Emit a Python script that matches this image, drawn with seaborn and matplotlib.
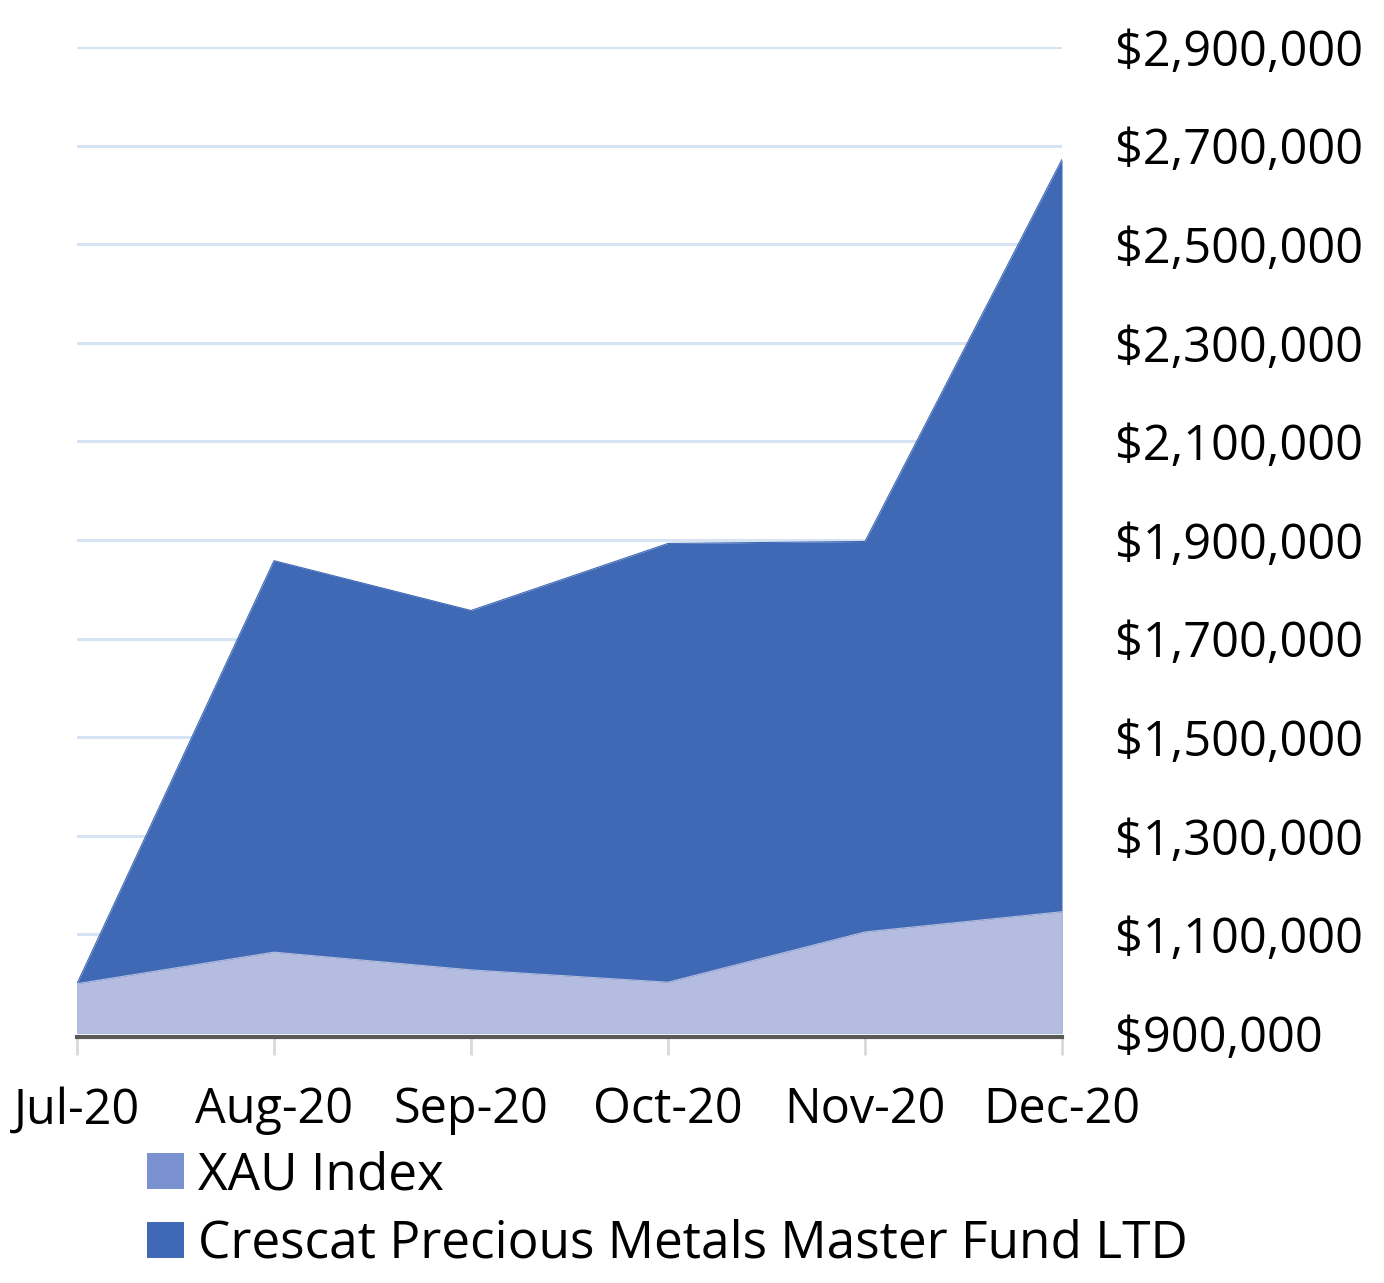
import matplotlib
matplotlib.use("Agg")
import matplotlib.pyplot as plt
import seaborn as sns
import pandas as pd
import numpy as np
from matplotlib.patches import Patch
from matplotlib.ticker import FuncFormatter

months = ["Jul-20", "Aug-20", "Sep-20", "Oct-20", "Nov-20", "Dec-20"]
crescat = [1000000, 1858000, 1757000, 1893000, 1897000, 2672000]
xau = [1000000, 1064000, 1028000, 1003000, 1105000, 1146000]
y_ticks = [900000, 1100000, 1300000, 1500000, 1700000, 1900000, 2100000, 2300000, 2500000, 2700000, 2900000]

df = pd.DataFrame({"month": months, "pos": range(len(months)),
                   "Crescat Precious Metals Master Fund LTD": crescat, "XAU Index": xau})

sns.set_theme(style="white")
plt.rcParams["font.family"] = ["Open Sans", "DejaVu Sans"]

C_DARK = "#3f69b5"
C_LIGHT = "#b4bddf"
C_SWATCH = "#7a92cf"

fig = plt.figure(figsize=(13.84, 12.83), dpi=100)
ax = fig.add_axes([77/1384, 1-1033/1283, (1062-77)/1384, (1033-47)/1283])

for yt in y_ticks[1:]:
    ax.axhline(yt, color="#d6e3f3", lw=2.2, zorder=0)

ax.fill_between(df["pos"], 900000, df["Crescat Precious Metals Master Fund LTD"], color=C_DARK, lw=0, zorder=2)
ax.fill_between(df["pos"], 900000, df["XAU Index"], color=C_LIGHT, lw=0, zorder=3)
sns.lineplot(data=df, x="pos", y="Crescat Precious Metals Master Fund LTD", color=C_DARK, lw=0.8, ax=ax, zorder=2)
sns.lineplot(data=df, x="pos", y="XAU Index", color=C_LIGHT, lw=0.8, ax=ax, zorder=3)

ax.set_xlim(0, len(months)-1)
ax.set_ylim(900000, 2900000)
ax.set_xlabel("")
ax.set_ylabel("")
ax.set_xticks(df["pos"])
ax.set_xticklabels(months)
ax.set_yticks(y_ticks)
ax.yaxis.set_major_formatter(FuncFormatter(lambda v, p: "${:,.0f}".format(v)))
ax.yaxis.tick_right()
ax.tick_params(axis="y", length=0, pad=38, labelsize=35, colors="black")
ax.tick_params(axis="x", direction="out", length=13, width=2, color="#d9d9d9", pad=22, labelsize=35, colors="black", bottom=True)
for s in ["top", "left", "right"]:
    ax.spines[s].set_visible(False)
ax.spines["bottom"].set_color("#595959")
ax.spines["bottom"].set_linewidth(3)
ax.spines["bottom"].set_position(("outward", 3))

handles = [Patch(facecolor=C_SWATCH, edgecolor="none", label="XAU Index"),
           Patch(facecolor=C_DARK, edgecolor="none", label="Crescat Precious Metals Master Fund LTD")]
fig.legend(handles=handles, loc="upper left", bbox_to_anchor=(147/1384, 1-1150/1283),
           frameon=False, fontsize=37, handlelength=0.72, handleheight=0.72, labelcolor="black",
           handletextpad=0.28, labelspacing=0.35, borderaxespad=0, borderpad=0)

fig.savefig("out.png", dpi=100)
